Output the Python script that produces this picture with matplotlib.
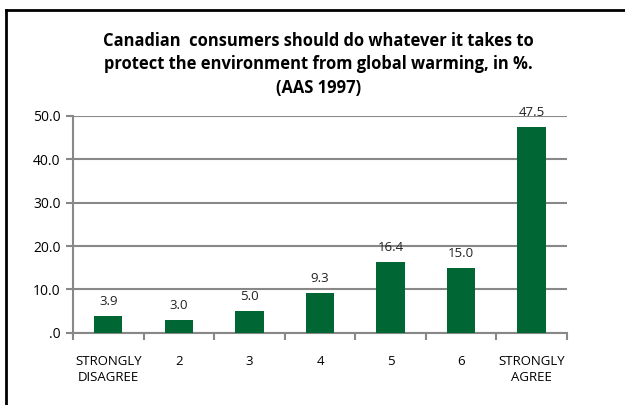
import matplotlib.pyplot as plt
import numpy as np
from matplotlib.lines import Line2D
from matplotlib.ticker import FuncFormatter

# Data
categories = ["STRONGLY\nDISAGREE", "2", "3", "4", "5", "6", "STRONGLY\nAGREE"]
values = [3.9, 3.0, 5.0, 9.3, 16.4, 15.0, 47.5]
yticks = [0, 10, 20, 30, 40, 50]

bar_color = "#006633"
grid_color = "#888888"
plt.rcParams["font.family"] = ["Open Sans", "DejaVu Sans"]

fig = plt.figure(figsize=(6.25, 4.05), dpi=100)
ax = fig.add_axes([0.117, 0.178, 0.79, 0.536])

x = np.arange(len(categories))
bars = ax.bar(x, values, width=0.4, color=bar_color, zorder=3)

for xi, v in zip(x, values):
    ax.text(xi, v + 1.8, f"{v:.1f}", ha="center", va="bottom", fontsize=9.5, color="#222222")

ax.set_xlim(-0.5, len(categories) - 0.5)
ax.set_ylim(0, 50)
ax.set_yticks(yticks)
ax.yaxis.set_major_formatter(FuncFormatter(lambda v, p: ".0" if v == 0 else f"{v:.1f}"))
ax.set_xticks(x)
ax.set_xticklabels(categories, fontsize=9.5, linespacing=1.3)
ax.set_xticks(np.arange(-0.5, len(categories)), minor=True)
ax.tick_params(axis="x", which="major", length=0, pad=16)
ax.tick_params(axis="x", which="minor", length=5, width=1.5, color=grid_color)
ax.tick_params(axis="y", length=5, width=1.5, color=grid_color, labelsize=10, pad=4)

ax.grid(axis="y", color=grid_color, linewidth=1.5, zorder=0)
ax.set_axisbelow(True)
for s in ["top", "right"]:
    ax.spines[s].set_visible(False)
for s in ["left", "bottom"]:
    ax.spines[s].set_color(grid_color)
    ax.spines[s].set_linewidth(1.5)

fig.text(0.51, 0.922,
         "Canadian  consumers should do whatever it takes to\n"
         "protect the environment from global warming, in %.\n(AAS 1997)",
         ha="center", va="top", fontsize=11.9, fontweight="bold", linespacing=1.42)

# chart frame (cropped at right and bottom)
fig.add_artist(Line2D([0.0096, 0.0096], [0.0, 0.975], color="black", linewidth=2))
fig.add_artist(Line2D([0.0096, 1.0], [0.975, 0.975], color="black", linewidth=2))

fig.savefig("out.png", dpi=100)
